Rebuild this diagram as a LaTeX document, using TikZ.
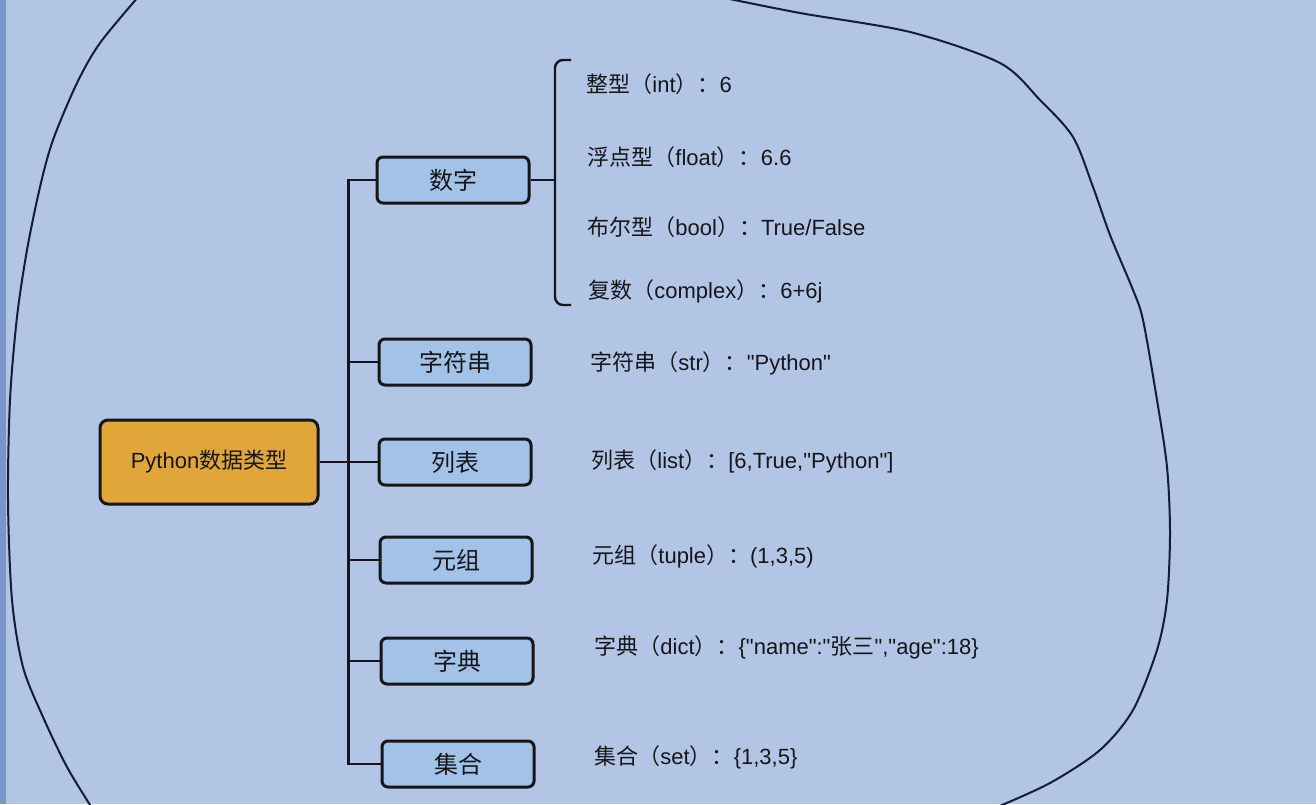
\documentclass[tikz,border=0pt]{standalone}
\usepackage{fontspec}
\setmainfont{Liberation Sans}[Ligatures=TeXOff]
\newfontfamily\zhfont{Noto Sans CJK SC}
\newcommand\zh[1]{{\zhfont #1}}
\newcommand\dq{\symbol{34}}
\usepackage{tikz}
\usetikzlibrary{positioning,calc}
\definecolor{pagebg}{RGB}{178,197,228}
\definecolor{pageedge}{RGB}{120,150,200}
\definecolor{boxblue}{RGB}{163,194,232}
\definecolor{rootorange}{RGB}{224,166,58}
\definecolor{ink}{RGB}{22,22,26}
\definecolor{pen}{RGB}{20,28,60}
\tikzset{
  root/.style={draw=ink,line width=1.5pt,rounded corners=4pt,fill=rootorange,minimum width=109pt,minimum height=42pt,font=\fontsize{11}{13}\selectfont,text=ink},
  kind/.style={draw=ink,line width=1.5pt,rounded corners=3pt,fill=boxblue,minimum width=76pt,minimum height=23pt,font=\fontsize{12}{14}\selectfont,text=ink},
  leaf/.style={anchor=west,inner sep=0pt,font=\fontsize{11}{13}\selectfont,text=ink},
  link/.style={draw=ink,line width=1.2pt},
  stroke/.style={draw=pen,line width=1pt,line cap=round}
}
\begin{document}
\begin{tikzpicture}[x=0.5pt,y=-0.5pt]
\fill[pagebg](0,0)rectangle(1316,804);
\fill[pageedge](0,0)rectangle(6,804);
\useasboundingbox(0,0)rectangle(1316,804);
\node[root](root)at(209,462){Python\zh{数据类型}};
\node[kind](num)at(453,180){\zh{数字}};
\node[kind](str)at(455,362){\zh{字符串}};
\node[kind](lst)at(455,462){\zh{列表}};
\node[kind](tup)at(456,560){\zh{元组}};
\node[kind](dct)at(457,661){\zh{字典}};
\node[kind](st)at(458,764){\zh{集合}};
\draw[link](root.east)--++(14.5pt,0)|-(num.west);\draw[link](root.east)--++(14.5pt,0)|-(str.west);
\draw[link](root.east)--(lst.west);\draw[link](root.east)--++(14.5pt,0)|-(tup.west);
\draw[link](root.east)--++(14.5pt,0)|-(dct.west);\draw[link](root.east)--++(14.5pt,0)|-(st.west);
\coordinate(bt)at(571,60);\coordinate(bb)at(571,305);
\draw[link](num.east)--++(12.5pt,0);
\draw[link,rounded corners=4pt](bt)--++(-16,0)|-(bb);
\node[leaf](int)at(586,84){\zh{整型（}int\zh{）：}6};
\node[leaf](flt)at(587,157){\zh{浮点型（}float\zh{）：}6.6};
\node[leaf](bool)at(587,227){\zh{布尔型（}bool\zh{）：}True/False};
\node[leaf](cpx)at(588,291){\zh{复数（}complex\zh{）：}6+6j};
\node[leaf](strv)at(590,363){\zh{字符串（}str\zh{）：}\dq Python\dq};
\node[leaf](lstv)at(591,461){\zh{列表（}list\zh{）：}[6,True,\dq Python\dq]};
\node[leaf](tupv)at(592,556){\zh{元组（}tuple\zh{）：}(1,3,5)};
\node[leaf](dctv)at(594,647){\zh{字典（}dict\zh{）：}\{\dq name\dq:\dq\zh{张三}\dq,\dq age\dq:18\}};
\node[leaf](stv)at(594,757){\zh{集合（}set\zh{）：}\{1,3,5\}};
\draw[stroke]plot[smooth]coordinates{(139,-4)(100,43)(77,83)(53,140)(40,187)(27,250)(17,317)(10,400)(8,500)(12,600)(23,667)(43,717)(67,767)(92,808)};
\draw[stroke]plot[smooth]coordinates{(715,-4)(800,13)(910,32)(1000,63)(1040,100)(1073,137)(1093,187)(1110,235)(1133,290)(1143,320)(1157,400)(1167,467)(1170,533)(1167,600)(1157,650)(1133,710)(1100,750)(1050,783)(995,808)};
\end{tikzpicture}
\end{document}
